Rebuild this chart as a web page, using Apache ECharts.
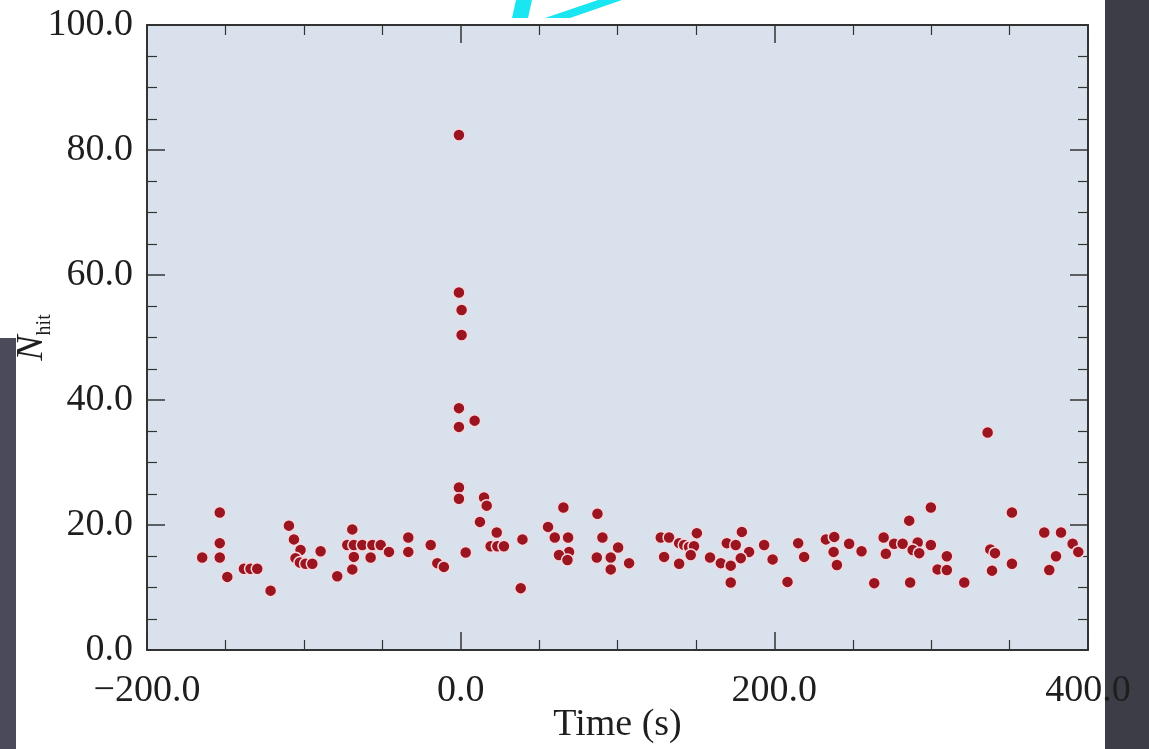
<!DOCTYPE html>
<html>
<head>
<meta charset="utf-8">
<script src="https://cdn.jsdelivr.net/npm/echarts@6/dist/echarts.min.js"></script>
<style>
html,body{margin:0;padding:0;background:#ffffff;}
#chart{width:1149px;height:749px;}
</style>
</head>
<body>
<div id="chart"></div>
<script>
// Data
const times = [-164.8,-153.6,-153.6,-153.6,-148.8,-138.2,-134.0,-129.7,-121.2,-109.5,-106.3,-102.1,-105.3,-102.5,-98.9,-94.6,-89.3,-78.7,-69.1,-68.1,-69.1,-72.3,-68.1,-62.7,-56.3,-51.0,-45.7,-57.4,-33.4,-33.4,-19.1,-14.9,-10.7,
  -1.1,-1.1,0.6,0.6,-1.1,8.9,-1.1,-1.1,-1.1,14.9,16.6,12.3,23.0,19.1,23.4,27.6,39.4,3.2,38.3,55.7,60.0,65.5,68.5,69.1,62.7,68.1,87.2,90.4,100.4,86.8,95.7,95.7,107.4,
  127.6,132.9,129.7,139.3,142.5,145.6,148.8,150.6,146.7,139.3,159.0,165.9,172.2,169.7,175.4,179.3,183.9,178.6,172.2,193.5,198.9,208.4,215.2,219.0,232.9,238.2,237.8,239.9,247.7,255.6,263.7,
  269.7,271.1,276.4,281.8,291.4,288.2,292.4,299.8,299.8,286.0,310.0,304.1,310.0,286.6,321.1,336.0,337.7,340.7,338.8,351.5,351.5,372.1,382.8,390.2,393.8,379.6,375.3];
const nhits = [14.8,22.0,17.1,14.8,11.7,13.0,13.0,13.0,9.5,19.9,17.7,16.0,14.7,14.0,13.8,13.8,15.8,11.8,12.9,14.9,19.3,16.8,16.8,16.8,16.8,16.8,15.7,14.8,18.0,15.7,16.8,13.9,13.3,
  82.4,57.2,54.4,50.4,38.7,36.7,35.7,26.0,24.2,24.4,23.1,20.5,18.8,16.6,16.6,16.6,17.7,15.6,9.9,19.7,18.0,22.8,18.0,15.7,15.2,14.4,21.8,18.0,16.4,14.8,14.8,12.9,13.9,
  18.0,18.0,14.9,17.1,16.8,16.5,16.6,18.7,15.2,13.8,14.8,13.9,13.5,17.1,16.8,18.9,15.7,14.7,10.8,16.8,14.5,10.9,17.1,14.9,17.7,18.1,15.7,13.6,17.0,15.8,10.7,
  18.0,15.4,17.0,17.0,17.2,16.0,15.5,16.8,22.8,20.7,15.0,12.9,12.8,10.8,10.8,34.8,16.1,15.5,12.7,22.0,13.8,18.8,18.8,17.0,15.7,15.0,12.8];
const xTicks = {min: -200, max: 400, step: 200};
const yTicks = {min: 0, max: 100, step: 20};
const xTitle = 'Time (s)';

const points = times.map((t, i) => [t, nhits[i]]);
const serif = 'Liberation Serif';
const fmt = v => (v < 0 ? '\u2212' : '') + Math.abs(v).toFixed(1);

const axisLine = {show: true, onZero: false, lineStyle: {color: '#333333', width: 2}};
const axisTick = {show: true, inside: true, length: 18, lineStyle: {color: '#333333', width: 1.5}};
const minorTick = {show: true, splitNumber: 4, length: 10, lineStyle: {color: '#333333', width: 1.2}};

const chart = echarts.init(document.getElementById('chart'), null, {renderer: 'canvas'});
chart.setOption({
  animation: false,
  backgroundColor: '#ffffff',
  graphic: [
    {type: 'rect', shape: {x: 1105, y: 0, width: 44, height: 749}, style: {fill: '#3d3d47'}, z: -5},
    {type: 'rect', shape: {x: 0, y: 338, width: 16, height: 411}, style: {fill: '#4a4a5a'}, z: -5},
    {type: 'polygon', shape: {points: [[516, 0], [532, 0], [528, 18], [512, 18]]}, style: {fill: '#19e6f0'}, z: -5},
    {type: 'polygon', shape: {points: [[545, 18], [598, 0], [622, 0], [570, 18]]}, style: {fill: '#19e6f0'}, z: -5}
  ],
  grid: {left: 147, top: 25, width: 941, height: 625, show: true, backgroundColor: '#d9e1ec', borderWidth: 0,
         containLabel: false, outerBoundsMode: 'none'},
  xAxis: [
    {
      type: 'value', min: xTicks.min, max: xTicks.max, interval: xTicks.step, position: 'bottom',
      axisLine, axisTick, minorTick, splitLine: {show: false},
      axisLabel: {formatter: fmt, fontFamily: serif, fontSize: 38, color: '#1e1e1e', margin: 22},
      name: xTitle, nameLocation: 'middle', nameGap: 56, nameMoveOverlap: false,
      nameTextStyle: {fontFamily: serif, fontSize: 38, color: '#1e1e1e'}
    },
    {
      type: 'value', min: xTicks.min, max: xTicks.max, interval: xTicks.step, position: 'top',
      axisLine, axisTick, minorTick, splitLine: {show: false}, axisLabel: {show: false}
    }
  ],
  yAxis: [
    {
      type: 'value', min: yTicks.min, max: yTicks.max, interval: yTicks.step, position: 'left',
      axisLine, axisTick, minorTick, splitLine: {show: false},
      axisLabel: {formatter: v => v.toFixed(1), fontFamily: serif, fontSize: 38, color: '#1e1e1e', margin: 14},
      name: '{n|N}{s|hit}', nameLocation: 'middle', nameGap: 96, nameRotate: 90, nameMoveOverlap: false,
      nameTextStyle: {
        rich: {
          n: {fontFamily: serif, fontStyle: 'italic', fontSize: 38, color: '#1e1e1e', verticalAlign: 'bottom'},
          s: {fontFamily: serif, fontSize: 20, color: '#1e1e1e', verticalAlign: 'bottom', padding: [0, 0, -4, 0]}
        }
      }
    },
    {
      type: 'value', min: yTicks.min, max: yTicks.max, interval: yTicks.step, position: 'right',
      axisLine, axisTick, minorTick, splitLine: {show: false}, axisLabel: {show: false}
    }
  ],
  series: [{
    type: 'scatter',
    xAxisIndex: 0, yAxisIndex: 0,
    data: points,
    symbol: 'circle',
    symbolSize: 12,
    itemStyle: {color: '#9a1520', borderColor: '#f4d8de', borderWidth: 1.5, opacity: 1}
  }]
});
</script>
</body>
</html>
